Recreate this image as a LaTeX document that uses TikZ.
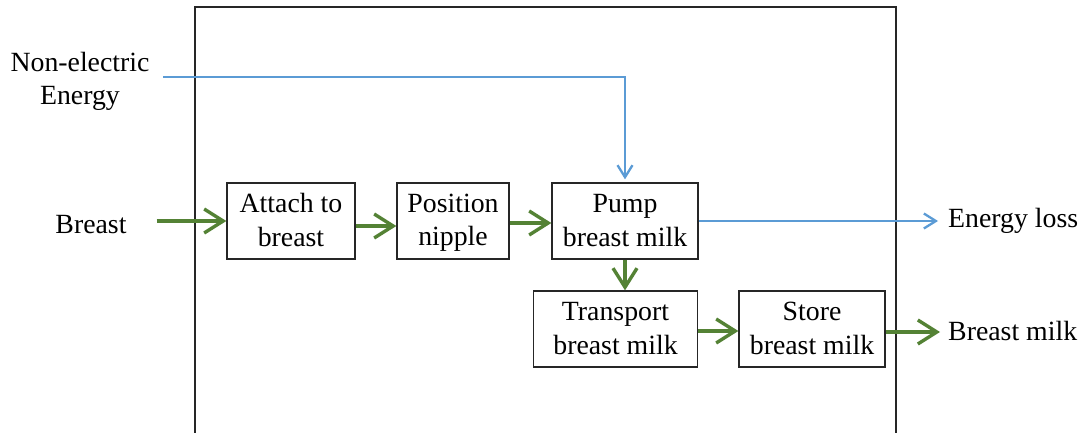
\documentclass[tikz,border=0pt]{standalone}
\usepackage{fontspec}
\setmainfont{Liberation Serif}
\usetikzlibrary{arrows.meta}
\definecolor{garr}{RGB}{84,130,53}
\definecolor{barr}{RGB}{91,155,213}
\newcommand{\dfont}{\fontsize{27.8}{33.5}\selectfont}
\newcommand{\lstrut}{\rule[-0.2em]{0pt}{1em}}
\newcommand{\twol}[2]{\lstrut #1\\\lstrut #2}
\tikzset{
  procbox/.style={draw=black!85, line width=1.3pt, inner sep=0pt, align=center, minimum height=76pt, font=\dfont},
  lbl/.style={inner sep=0pt, align=center, font=\dfont},
  garrow/.style={draw=garr, line width=3.4pt, -{Straight Barb[length=19pt,width=24pt,line width=3.4pt]}},
  barrow/.style={draw=barr, line width=2.3pt, -{Straight Barb[length=12pt,width=15pt,line width=2.3pt]}},
}
\begin{document}
\begin{tikzpicture}[x=1pt,y=-1pt]
\useasboundingbox (0,0) rectangle (1086,433);
% frame (open at the bottom)
\draw[line width=1.5pt, black!85] (195,433) -- (195,7) -- (896,7) -- (896,433);
% boxes
\node[procbox, minimum width=128pt] (att) at (291,221) {\twol{Attach to}{breast}};
\node[procbox, minimum width=112pt] (pos) at (453,221) {\twol{Position}{nipple}};
\node[procbox, minimum width=146pt] (pump) at (625,221) {\twol{Pump}{breast milk}};
\node[procbox, minimum width=164pt] (trans) at (615.5,329) {\twol{Transport}{breast milk}};
\node[procbox, minimum width=146pt] (store) at (812,329) {\twol{Store}{breast milk}};
% labels
\node[lbl] (ne) at (80,80) {\twol{Non-electric}{Energy}};
\node[lbl] (breast) at (91,225) {Breast};
\node[lbl, anchor=west] (eloss) at (948,221) {Energy loss};
\node[lbl, anchor=west] (bmilk) at (948,331) {Breast milk};
\coordinate (nestart) at (163,77);
% green flow
\draw[garrow] ([xshift=30pt]breast.east |- 0,221) -- (att.west);
\draw[garrow] ([yshift=-5pt]att.east) -- ([yshift=-5pt]pos.west);
\draw[garrow] ([yshift=-2pt]pos.east) -- ([yshift=-2pt]pump.west);
\draw[garrow] (pump.south) -- (pump.south |- trans.north);
\draw[garrow] ([yshift=-2pt]trans.east) -- ([yshift=-2pt]store.west);
\draw[garrow] ([yshift=-3pt]store.east) -- ([xshift=-8pt,yshift=-3pt]store.east -| bmilk.west);
% blue energy flow
\draw[barrow] (nestart) -- (nestart -| pump.north) -- ([yshift=3pt]pump.north);
\draw[barrow] (pump.east) -- ([xshift=-10pt]eloss.west);
\end{tikzpicture}
\end{document}
